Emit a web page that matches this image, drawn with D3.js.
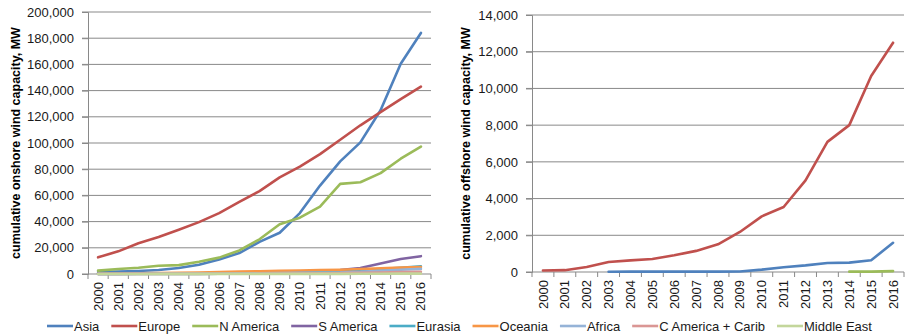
<!DOCTYPE html>
<html>
<head>
<meta charset="utf-8">
<script src="https://cdn.jsdelivr.net/npm/d3@7"></script>
<style>
  html, body { margin: 0; padding: 0; background: #fff; }
  svg { display: block; font-family: "Liberation Sans", Arial, sans-serif; }
</style>
</head>
<body>
<svg id="chart" width="905" height="336"></svg>
<script>
// Years on the category axis
const years = ["2000","2001","2002","2003","2004","2005","2006","2007","2008",
               "2009","2010","2011","2012","2013","2014","2015","2016"];

// Region names and line colours (legend order)
const regions = ["Asia","Europe","N America","S America","Eurasia","Oceania",
                 "Africa","C America + Carib","Middle East"];
const regionColors = ["#4f81bd","#c0504d","#9bbb59","#8064a2","#4bacc6",
                      "#f79646","#95b3d7","#da9694","#c3d69b"];

// Cumulative onshore capacity, MW
const asiaOn    = [1500,1800,2300,3000,4600,7000,11000,16000,24500,31500,46500,67500,86000,100500,125000,160500,184000];
const europeOn  = [12700,17300,23500,28200,33800,39600,46500,55000,63300,73800,82000,91500,102500,113500,123500,133500,143000];
const nAmOn     = [2600,3800,4800,6300,6800,9300,12500,18000,26500,38000,43000,51500,68800,70000,77000,88000,97300];
const sAmOn     = [100,100,150,200,250,300,400,500,650,900,1300,2000,3000,4500,8000,11500,13600];
const eurasiaOn = [50,60,70,80,100,120,150,200,350,600,900,1300,1800,2700,3800,4800,5900];
const oceaniaOn = [200,300,500,700,900,1200,1500,1800,2100,2400,2700,3000,3300,3800,4300,4900,5400];
const africaOn  = [150,200,250,250,300,350,400,500,600,750,900,1000,1100,1600,2500,3300,3900];
const cAmOn     = [50,50,60,70,80,100,150,200,250,300,400,600,800,1000,1200,1400,1600];
const mEastOn   = [50,50,50,60,60,70,70,80,90,100,100,110,120,150,200,250,300];

// Cumulative offshore capacity, MW (null = no installed capacity yet)
const asiaOff   = [null,null,null,10,20,20,20,20,20,30,130,260,360,490,510,640,1590];
const europeOff = [80,100,270,545,635,710,910,1150,1510,2180,3030,3540,4990,7090,8000,10680,12490];
const nAmOff    = [null,null,null,null,null,null,null,null,null,null,null,null,null,null,20,20,50];

// Axis tick values
const onTicks  = [0,20000,40000,60000,80000,100000,120000,140000,160000,180000,200000];
const offTicks = [0,2000,4000,6000,8000,10000,12000,14000];

const onSeries = [
  {name:"Asia", values: asiaOn}, {name:"Europe", values: europeOn},
  {name:"N America", values: nAmOn}, {name:"S America", values: sAmOn},
  {name:"Eurasia", values: eurasiaOn}, {name:"Oceania", values: oceaniaOn},
  {name:"Africa", values: africaOn}, {name:"C America + Carib", values: cAmOn},
  {name:"Middle East", values: mEastOn}
];
const offSeries = [
  {name:"Asia", values: asiaOff}, {name:"Europe", values: europeOff},
  {name:"N America", values: nAmOff}
];

const color = d3.scaleOrdinal().domain(regions).range(regionColors);
const svg = d3.select("#chart");
const fmt = d3.format(",");
const gridColor = "#898989";

function panel(opts) {
  const x = d3.scaleBand().domain(years).range([opts.x0, opts.x1]);
  const y = d3.scaleLinear().domain([0, opts.max]).range([opts.y0, opts.y1]);
  const g = svg.append("g");

  // horizontal gridlines (with their outer tick stub)
  g.selectAll("line.grid").data(opts.ticks.filter(t => t > 0)).join("line")
    .attr("x1", opts.x0 - 6).attr("x2", opts.x1)
    .attr("y1", d => y(d)).attr("y2", d => y(d))
    .attr("stroke", gridColor).attr("stroke-width", 1);

  // value axis
  const yAxis = g.append("g").attr("transform", `translate(${opts.x0},0)`)
    .call(d3.axisLeft(y).tickValues(opts.ticks).tickFormat(fmt).tickSize(6).tickPadding(8));
  yAxis.select(".domain").attr("stroke", gridColor);
  yAxis.selectAll(".tick line").attr("stroke", gridColor);
  yAxis.selectAll("text").attr("font-size", 13).attr("fill", "#1a1a1a")
    .attr("font-family", "'Liberation Sans', Arial, sans-serif");

  // category axis: baseline, tick marks at band edges, rotated year labels
  const base = y(0);
  g.append("line").attr("x1", opts.x0 - 6).attr("x2", opts.x1)
    .attr("y1", base).attr("y2", base).attr("stroke", gridColor);
  const edges = years.map(d => x(d)).concat([x(years[years.length - 1]) + x.bandwidth()]);
  g.selectAll("line.xt").data(edges).join("line")
    .attr("x1", d => d).attr("x2", d => d)
    .attr("y1", base).attr("y2", base + 5)
    .attr("stroke", gridColor);
  g.selectAll("text.yr").data(years).join("text")
    .attr("transform", d => `translate(${x(d) + x.bandwidth() / 2},${base + 8}) rotate(-90)`)
    .attr("text-anchor", "end").attr("dy", "0.35em")
    .attr("font-size", 13).attr("fill", "#1a1a1a").text(d => d);

  // axis title
  svg.append("text")
    .attr("transform", `translate(${opts.titleX},${(opts.y0 + opts.y1) / 2}) rotate(-90)`)
    .attr("text-anchor", "middle").attr("font-size", 12.5).attr("font-weight", "bold")
    .attr("fill", "#000").text(opts.title);

  // series lines
  const line = d3.line()
    .defined(d => d.v != null)
    .x(d => x(d.year) + x.bandwidth() / 2)
    .y(d => y(d.v));
  g.selectAll("path.series").data(opts.series).join("path")
    .attr("fill", "none")
    .attr("stroke", d => color(d.name))
    .attr("stroke-width", 2.6)
    .attr("stroke-linejoin", "round")
    .attr("stroke-linecap", "round")
    .attr("d", s => line(years.map((yr, i) => ({year: yr, v: s.values[i]}))));
}

panel({x0: 88, x1: 431, y0: 274, y1: 12, max: 200000, ticks: onTicks,
       series: onSeries, titleX: 19.5, title: "cumulative onshore wind capacity, MW"});
panel({x0: 532, x1: 904, y0: 272, y1: 15, max: 14000, ticks: offTicks,
       series: offSeries, titleX: 469.5, title: "cumulative offshore wind capacity, MW"});

// legend along the bottom
const legend = svg.append("g");
let lx = 47;
const ly = 326;
regions.forEach(name => {
  const item = legend.append("g");
  item.append("line").attr("x1", lx).attr("x2", lx + 26)
    .attr("y1", ly).attr("y2", ly)
    .attr("stroke", color(name)).attr("stroke-width", 2.6);
  const t = item.append("text").attr("x", lx + 27).attr("y", ly).attr("dy", "0.35em")
    .attr("font-size", 13).attr("fill", "#1a1a1a").text(name);
  lx += 27 + t.node().getComputedTextLength() + 12;
});
</script>
</body>
</html>
